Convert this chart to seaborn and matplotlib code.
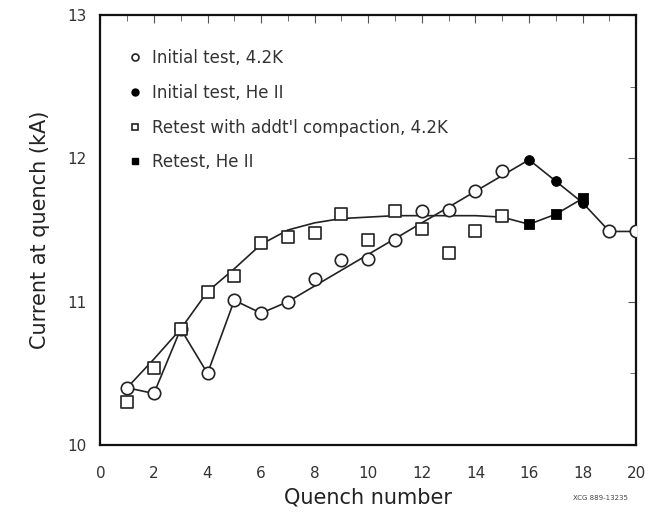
import matplotlib
matplotlib.use("Agg")
import matplotlib.pyplot as plt
from matplotlib.lines import Line2D
import seaborn as sns
import pandas as pd
import numpy as np

# ---- data ----
init_42_x = [1, 2, 3, 4, 5, 6, 7, 8, 9, 10, 11, 12, 13, 14, 15, 19, 20]
init_42_y = [10.40, 10.36, 10.81, 10.50, 11.01, 10.92, 11.00, 11.16, 11.29, 11.30,
             11.43, 11.63, 11.64, 11.77, 11.91, 11.49, 11.49]
init_he_x = [16, 17, 18]
init_he_y = [11.99, 11.84, 11.69]
retest_42_x = [1, 2, 3, 4, 5, 6, 7, 8, 9, 10, 11, 12, 13, 14, 15]
retest_42_y = [10.30, 10.54, 10.81, 11.07, 11.18, 11.41, 11.45, 11.48, 11.61, 11.43,
               11.63, 11.51, 11.34, 11.49, 11.60]
retest_he_x = [16, 17, 18]
retest_he_y = [11.54, 11.61, 11.72]

# guide lines drawn through the data
init_line_x = [1, 2, 3, 4, 5, 6, 7, 16, 17, 18, 19, 20]
init_line_y = [10.40, 10.36, 10.81, 10.50, 11.01, 10.92, 11.00, 11.99, 11.84, 11.69, 11.49, 11.49]
retest_line_x = [1, 2, 3, 4, 5, 6, 7, 8, 9, 10, 11, 12, 13, 14, 15, 16, 17, 18]
retest_line_y = [10.40, 10.60, 10.81, 11.07, 11.23, 11.40, 11.50, 11.55, 11.58, 11.59,
                 11.60, 11.60, 11.60, 11.60, 11.59, 11.54, 11.61, 11.72]

labels = ["Initial test, 4.2K", "Initial test, He II",
          "Retest with addt'l compaction, 4.2K", "Retest, He II"]

sns.set_theme(style="white")
plt.rcParams['font.family'] = ['DejaVu Sans']

fig = plt.figure(figsize=(6.6, 5.14), dpi=100)
ax = fig.add_axes([0.152, 0.134, 0.812, 0.837])

lc = "#222222"
sns.lineplot(x=init_line_x, y=init_line_y, ax=ax, color=lc, lw=1.2, sort=False,
             estimator=None)
sns.lineplot(x=retest_line_x, y=retest_line_y, ax=ax, color=lc, lw=1.2, sort=False,
             estimator=None)

sns.scatterplot(x=init_42_x, y=init_42_y, ax=ax, marker="o", s=80,
                facecolor="white", edgecolor=lc, linewidth=1.2, zorder=3)
sns.scatterplot(x=retest_42_x, y=retest_42_y, ax=ax, marker="s", s=70,
                facecolor="white", edgecolor=lc, linewidth=1.2, zorder=3)
sns.scatterplot(x=init_he_x, y=init_he_y, ax=ax, marker="o", s=50,
                color="black", edgecolor="black", zorder=4)
sns.scatterplot(x=retest_he_x, y=retest_he_y, ax=ax, marker="s", s=50,
                color="black", edgecolor="black", zorder=4)

ax.set_xlim(0, 20)
ax.set_ylim(10, 13)
ax.set_xticks(range(0, 21, 2))
ax.set_xticks(range(0, 21, 1), minor=True)
ax.set_yticks([10, 11, 12, 13])
ax.set_yticks(np.arange(10, 13.01, 0.5), minor=True)
ax.tick_params(which="both", direction="in", top=True, right=True, color="#555555",
               labelcolor="#333333", labelsize=11)
ax.tick_params(which="major", length=6, width=0.8)
ax.tick_params(axis="x", which="major", pad=15)
ax.tick_params(axis="y", which="major", pad=10)
ax.tick_params(which="minor", length=4, width=0.6)
for sp in ax.spines.values():
    sp.set_color("#111111")
    sp.set_linewidth(1.6)

ax.set_xlabel("Quench number", fontsize=15, color="#222222", labelpad=5)
ax.set_ylabel("Current at quench (kA)", fontsize=15, color="#222222", labelpad=12)

handles = [
    Line2D([], [], ls="none", marker="o", ms=5, mfc="white", mec=lc, mew=1.2),
    Line2D([], [], ls="none", marker="o", ms=5, mfc="black", mec="black"),
    Line2D([], [], ls="none", marker="s", ms=5, mfc="white", mec=lc, mew=1.2),
    Line2D([], [], ls="none", marker="s", ms=5, mfc="black", mec="black"),
]
leg = ax.legend(handles, labels, loc="upper left", bbox_to_anchor=(0.024, 0.955),
                frameon=False, fontsize=12, labelspacing=1.0, handlelength=0.8,
                handletextpad=0.6, labelcolor="#333333")

fig.text(0.952, 0.025, "XCG 889-13235", fontsize=5, ha="right", va="bottom", color="#444444")

fig.savefig("out.png", dpi=100)
